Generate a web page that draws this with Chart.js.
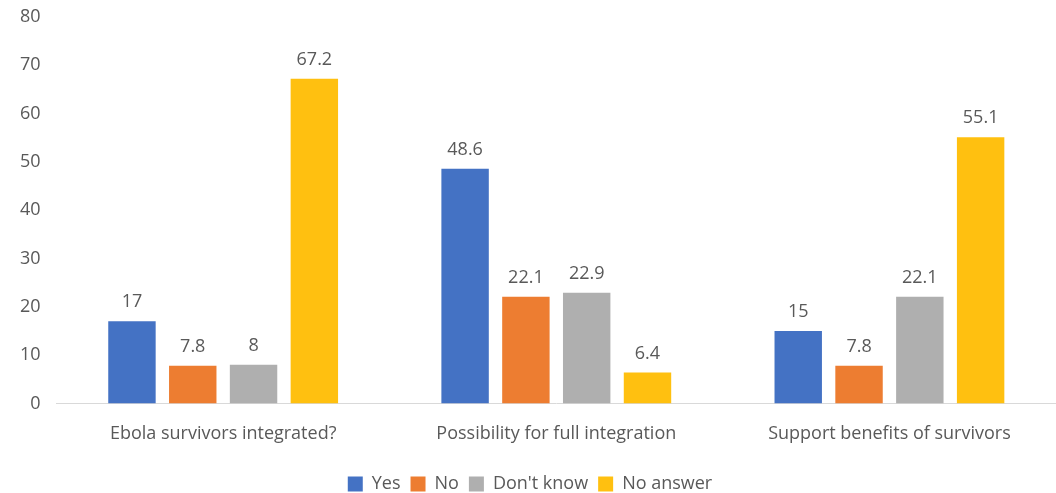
<!DOCTYPE html>
<html>
<head>
<meta charset="utf-8">
<script src="https://cdn.jsdelivr.net/npm/chart.js@4"></script>
<style>
  html, body { margin: 0; padding: 0; background: #fff; }
  #wrap { width: 1056px; height: 493px; position: relative; }
</style>
</head>
<body>
<div id="wrap"><canvas id="chart"></canvas></div>
<script>
const categories = ['Ebola survivors integrated?', 'Possibility for full integration', 'Support benefits of survivors'];
const yes = [17, 48.6, 15];
const no = [7.8, 22.1, 7.8];
const dontKnow = [8, 22.9, 22.1];
const noAnswer = [67.2, 6.4, 55.1];
const yTicks = [0, 10, 20, 30, 40, 50, 60, 70, 80];

const textColor = '#595959';
const fontFamily = "'Open Sans', 'Liberation Sans', sans-serif";
const fontSize = 18;

// Simple value labels above each bar
const valueLabels = {
  id: 'valueLabels',
  afterDatasetsDraw(chart) {
    const ctx = chart.ctx;
    ctx.save();
    ctx.fillStyle = textColor;
    ctx.font = fontSize + 'px ' + fontFamily;
    ctx.textAlign = 'center';
    ctx.textBaseline = 'bottom';
    chart.data.datasets.forEach((ds, i) => {
      chart.getDatasetMeta(i).data.forEach((bar, j) => {
        ctx.fillText(String(ds.data[j]), bar.x, bar.y - 10);
      });
    });
    ctx.restore();
  }
};

const makeSet = (label, data, color) => ({
  label: label,
  data: data,
  backgroundColor: color,
  borderWidth: 0,
  categoryPercentage: 0.73,
  barPercentage: 0.78
});

new Chart(document.getElementById('chart'), {
  type: 'bar',
  data: {
    labels: categories,
    datasets: [
      makeSet('Yes', yes, '#4472C4'),
      makeSet('No', no, '#ED7D31'),
      makeSet("Don't know", dontKnow, '#AFAFAF'),
      makeSet('No answer', noAnswer, '#FFC010')
    ]
  },
  options: {
    responsive: true,
    maintainAspectRatio: false,
    animation: false,
    layout: { padding: { top: 17, right: 0, left: 4, bottom: -10 } },
    plugins: {
      tooltip: { enabled: false },
      legend: {
        position: 'bottom',
        labels: {
          color: textColor,
          boxWidth: 15,
          boxHeight: 15,
          padding: 10,
          font: { family: fontFamily, size: fontSize }
        }
      }
    },
    scales: {
      x: {
        grid: { display: false, drawTicks: false },
        border: { display: true, color: '#D9D9D9', width: 1 },
        ticks: { color: textColor, padding: 20, font: { family: fontFamily, size: fontSize } }
      },
      y: {
        min: 0,
        max: 80,
        afterBuildTicks(axis) { axis.ticks = yTicks.map(v => ({ value: v })); },
        afterFit(axis) { axis.paddingTop = 0; },
        grid: { display: false, drawTicks: false },
        border: { display: false },
        ticks: { color: textColor, padding: 16, font: { family: fontFamily, size: fontSize } }
      }
    }
  },
  plugins: [valueLabels]
});
</script>
</body>
</html>
